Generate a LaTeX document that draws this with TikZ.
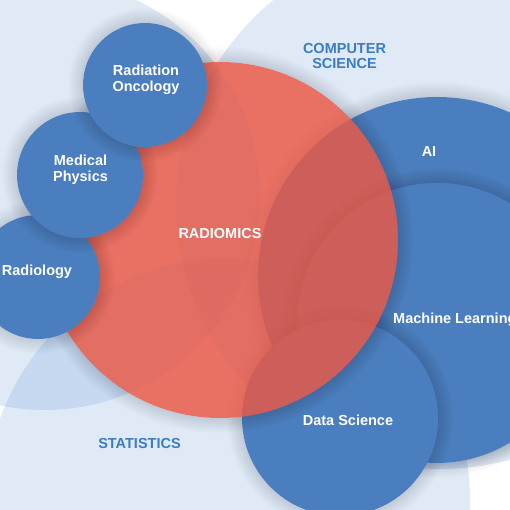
\documentclass[tikz,border=0pt]{standalone}
\usepackage{fontspec}
\setmainfont{Liberation Sans}
\definecolor{bgblue}{HTML}{6496D7}
\definecolor{cblue}{HTML}{4A7EBE}
\definecolor{cred}{HTML}{EA5744}
\definecolor{ltext}{HTML}{3A7DC2}
\tikzset{
  bgcircle/.style={fill=bgblue, fill opacity=0.2},
  bluecircle/.style={fill=cblue},
  redcircle/.style={fill=cred, fill opacity=0.82},
  whitelabel/.style={text=white, font=\bfseries\fontsize{14.5}{15.5}\selectfont, align=center, inner sep=0pt},
  fieldlabel/.style={text=ltext, font=\bfseries\fontsize{14.5}{14.5}\selectfont, align=center, inner sep=0pt},
}
\newcommand{\softshadow}[3]{%
  \foreach \k in {1,...,10}{\fill[black, fill opacity=0.011, even odd rule] (#1,#2) circle ({#3pt+\k*1.5pt}) (#1,#2) circle (#3pt);}%
}
\begin{document}
\begin{tikzpicture}[x=1pt,y=-1pt]
\useasboundingbox (0,0) rectangle (510,510);
\fill[white] (0,0) rectangle (510,510);
\begin{scope}
  \clip (0,0) rectangle (510,510);
  % background fields
  \fill[bgcircle] (45,195) circle (215pt);
  \fill[bgcircle] (440,205) circle (264pt);
  \fill[bgcircle] (228,500) circle (242pt);
  % right circles
  \softshadow{437}{276}{179}
  \fill[bluecircle] (437,276) circle (179pt);
  \softshadow{437}{323}{140}
  \fill[bluecircle] (437,323) circle (140pt);
  \softshadow{340}{418}{98}
  \fill[bluecircle] (340,418) circle (98pt);
  % radiomics
  \softshadow{220}{240}{178}
  \fill[redcircle] (220,240) circle (178pt);
  % left circles
  \softshadow{38}{277}{62}
  \fill[bluecircle] (38,277) circle (62pt);
  \softshadow{80}{175}{63}
  \fill[bluecircle] (80,175) circle (63pt);
  \softshadow{145}{85}{62}
  \fill[bluecircle] (145,85) circle (62pt);
\end{scope}
% labels
\node[whitelabel] (ro) at (146,80) {Radiation\\Oncology};
\node[whitelabel] (mp) at (80.5,170) {Medical\\Physics};
\node[whitelabel] (rad) at (37,271.5) {Radiology};
\node[whitelabel] (radiomics) at (220,234) {RADIOMICS};
\node[whitelabel] (ai) at (429,152) {AI};
\node[whitelabel, anchor=west] (ml) at (393,320) {Machine Learning};
\node[whitelabel] (ds) at (348,420.5) {Data Science};
\node[fieldlabel] (cs) at (344.5,56) {COMPUTER\\SCIENCE};
\node[fieldlabel] (stat) at (139.5,444) {STATISTICS};
\end{tikzpicture}
\end{document}
